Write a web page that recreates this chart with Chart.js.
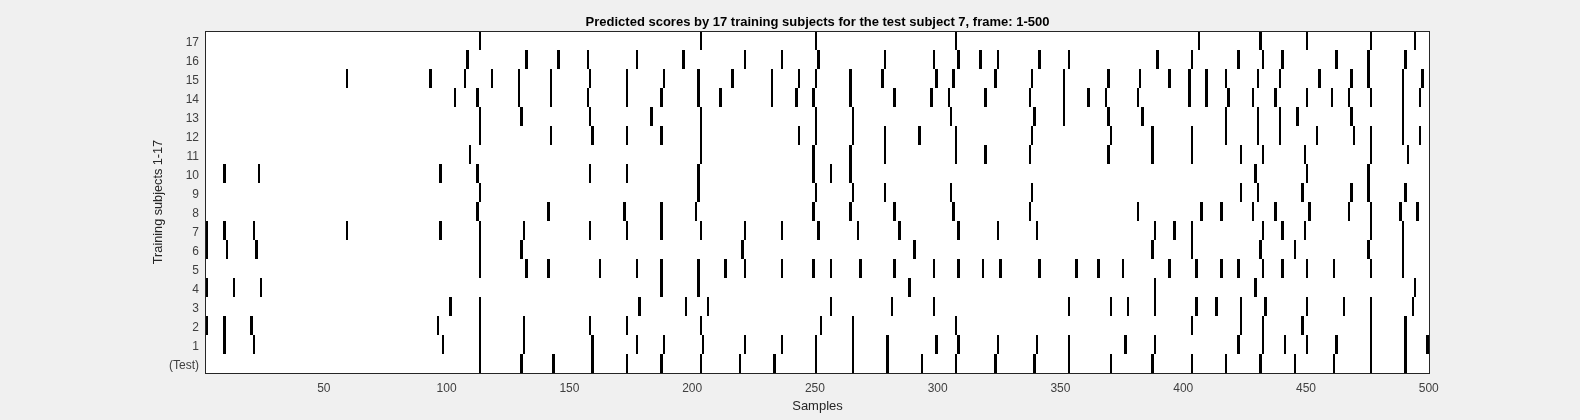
<!DOCTYPE html>
<html><head><meta charset="utf-8">
<style>html,body{margin:0;padding:0;background:#f0f0f0}canvas{display:block}</style>
<script src="https://cdn.jsdelivr.net/npm/chart.js@4"></script></head>
<body><div style="width:1580px;height:420px"><canvas id="c" width="1580" height="420"></canvas></div>
<script>
const rowLabels=['17','16','15','14','13','12','11','10','9','8','7','6','5','4','3','2','1','(Test)'];
const xTicks=[50,100,150,200,250,300,350,400,450,500];
const subject17=[113,203,250,307,406,431,450,476,494];
const subject16=[108,132,145,157,177,196,221,236,251,278,298,308,317,324,341,353,389,403,422,432,440,462,475,490];
const subject15=[59,93,107,118,129,142,158,173,188,202,216,232,243,250,264,277,299,306,323,338,351,369,382,394,402,409,417,430,439,455,468,475,489,497];
const subject14=[103,112,129,142,157,173,187,202,211,232,242,249,264,282,297,304,319,337,351,361,368,381,402,409,418,428,437,450,460,467,476,489,496];
const subject13=[113,130,158,183,203,250,265,305,339,351,369,383,417,430,439,446,468,489];
const subject12=[113,142,159,173,187,203,243,250,265,278,292,307,338,370,387,403,417,430,439,454,469,476,489,496];
const subject11=[109,203,249,264,278,307,319,337,369,387,403,423,432,449,476,491];
const subject10=[9,23,97,112,158,173,202,249,256,264,429,450,475];
const subject9=[113,202,250,265,278,305,338,423,430,448,468,475,490];
const subject8=[112,141,172,187,201,249,264,282,306,337,381,407,415,428,437,451,467,476,488,495];
const subject7=[2,9,21,59,97,113,131,158,173,187,203,221,236,251,267,284,308,324,340,388,396,403,432,440,449,476,489];
const subject6=[2,10,22,113,130,220,290,387,403,431,445,475,489];
const subject5=[113,132,141,162,177,187,202,213,221,236,249,256,268,282,298,308,318,325,341,356,365,375,394,405,415,422,432,440,450,461,476,489];
const subject4=[2,13,24,187,202,288,388,429,494];
const subject3=[101,113,178,197,206,256,281,298,353,370,377,388,405,413,423,433,450,465,476,493];
const subject2=[2,9,20,96,113,131,158,173,203,252,265,307,403,423,432,448,476,490];
const subject1=[9,21,98,113,131,159,177,188,204,221,236,250,265,279,299,308,324,340,353,376,388,422,432,441,450,462,476,490,499];
const testSubject=[113,130,143,159,173,187,203,219,233,250,265,279,293,307,323,339,353,370,387,403,417,431,445,461,476,490];
const rows=[subject17,subject16,subject15,subject14,subject13,subject12,subject11,subject10,subject9,subject8,subject7,subject6,subject5,subject4,subject3,subject2,subject1,testSubject];

const frame={id:'frame',
 beforeDraw(ch){const a=ch.chartArea,c=ch.ctx;c.save();c.fillStyle='#fff';c.fillRect(a.left,a.top,a.right-a.left,a.bottom-a.top);c.restore();},
 beforeDatasetsDraw(ch){ch.getSortedVisibleDatasetMetas().forEach(m=>m.data.forEach(e=>{e.x=Math.round(e.x);e.base=Math.round(e.base);}));},
 afterDatasetsDraw(ch){const a=ch.chartArea,c=ch.ctx;c.save();c.strokeStyle='#262626';c.lineWidth=1;c.strokeRect(a.left-0.5,a.top+0.5,a.right-a.left+1,a.bottom-a.top);c.restore();}
};
new Chart(document.getElementById('c'),{
 type:'bar',
 data:{labels:rowLabels,datasets:rows.map((r,i)=>({label:rowLabels[i],backgroundColor:'#000',hoverBackgroundColor:'#000',data:r.map(s=>({x:[s,s+1],y:rowLabels[i]}))}))},
 plugins:[frame],
 options:{responsive:false,animation:false,indexAxis:'y',
  layout:{padding:{left:0,right:151,top:0,bottom:0}},
  datasets:{bar:{grouped:false,barThickness:19,borderWidth:0,inflateAmount:0}},
  plugins:{legend:{display:false},tooltip:{enabled:false},
   title:{display:true,fullSize:false,text:'Predicted scores by 17 training subjects for the test subject 7, frame: 1-500',color:'#000',font:{family:'Liberation Sans',size:13,weight:'bold',lineHeight:1.2},padding:{top:15,bottom:0.4}}},
  scales:{
   x:{type:'linear',position:'bottom',min:2,max:500.1,afterBuildTicks(s){s.ticks=xTicks.map(v=>({value:v}));},afterFit(s){s.height=47;},
      grid:{display:false,drawTicks:false},border:{display:false},
      ticks:{autoSkip:false,maxRotation:0,color:'#404040',padding:8,font:{family:'Liberation Sans',size:12},callback:v=>String(v)},
      title:{display:true,text:'Samples',color:'#262626',font:{family:'Liberation Sans',size:13,lineHeight:1.2},padding:{top:0,bottom:6}}},
   y:{type:'category',position:'left',labels:rowLabels,offset:true,afterFit(s){s.width=206;},
      grid:{display:false,drawTicks:false},border:{display:false},
      ticks:{autoSkip:false,color:'#404040',padding:7,labelOffset:2,font:{family:'Liberation Sans',size:12}},
      title:{display:true,text:'Training subjects 1-17',color:'#262626',font:{family:'Liberation Sans',size:12.7,lineHeight:1.2},padding:{top:151,bottom:0}}}
  }}
});
</script></body></html>
